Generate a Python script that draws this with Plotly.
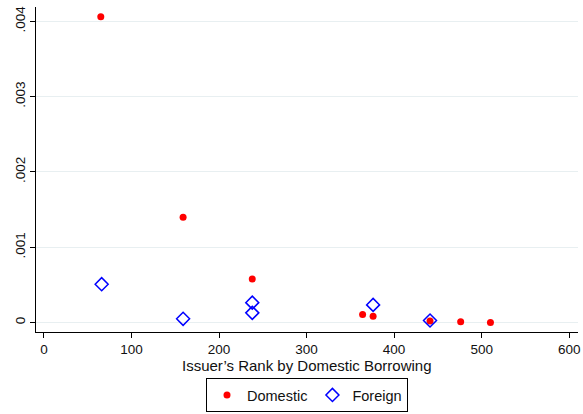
import plotly.graph_objects as go

dom_x = [65, 159, 238, 364, 376, 441, 476, 510]
dom_y = [0.00406, 0.00140, 0.00058, 0.000106, 0.000085, 0.00002, 0.00001, 0.0]
for_x = [66, 159, 238, 238, 376, 441]
for_y = [0.00051, 0.00005, 0.000265, 0.000129, 0.000235, 0.000027]

x_ticks = [0, 100, 200, 300, 400, 500, 600]
y_ticks = [0, 0.001, 0.002, 0.003, 0.004]
y_labels = ["0", ".001", ".002", ".003", ".004"]

fig = go.Figure()
fig.add_trace(go.Scatter(x=dom_x, y=dom_y, mode="markers", name="Domestic",
                         marker=dict(symbol="circle", size=7, color="#ff0000")))
fig.add_trace(go.Scatter(x=for_x, y=for_y, mode="markers", name="Foreign",
                         marker=dict(symbol="diamond-open", size=10, color="#0000ff",
                                     line=dict(width=1.5, color="#0000ff"))))

fig.update_layout(
    width=583, height=414,
    margin=dict(l=36, r=5, t=7, b=82),
    paper_bgcolor="white", plot_bgcolor="white",
    font=dict(family="Liberation Sans, Arial, sans-serif", size=15, color="#111"),
    showlegend=True,
    legend=dict(orientation="h", x=0.5, xanchor="center",
                yref="container", y=0.087, yanchor="top",
                bordercolor="black", borderwidth=1, font=dict(size=14.5),
                itemwidth=30, tracegroupgap=0),
    xaxis=dict(range=[-9, 610], tickvals=x_ticks, showgrid=False, zeroline=False,
               showline=True, linecolor="black", linewidth=1, ticks="outside",
               ticklen=5, tickcolor="black", automargin=False,
               tickfont=dict(size=13.5)),
    yaxis=dict(range=[-0.000125, 0.00419], tickvals=y_ticks, ticktext=y_labels,
               tickangle=-90, showgrid=True, gridcolor="#e8eff1", gridwidth=1,
               zeroline=False, showline=True, linecolor="black", linewidth=1,
               ticks="outside", ticklen=5, tickcolor="black", automargin=False,
               tickfont=dict(size=13.5)),
    annotations=[dict(text="Issuer’s Rank by Domestic Borrowing", xref="paper",
                      yref="paper", x=0.5, y=0, yshift=-33, xanchor="center",
                      yanchor="middle", showarrow=False, font=dict(size=15))],
)

fig.write_html("out.html", config={"displayModeBar": False},
               post_script="document.body.style.margin='0';")
